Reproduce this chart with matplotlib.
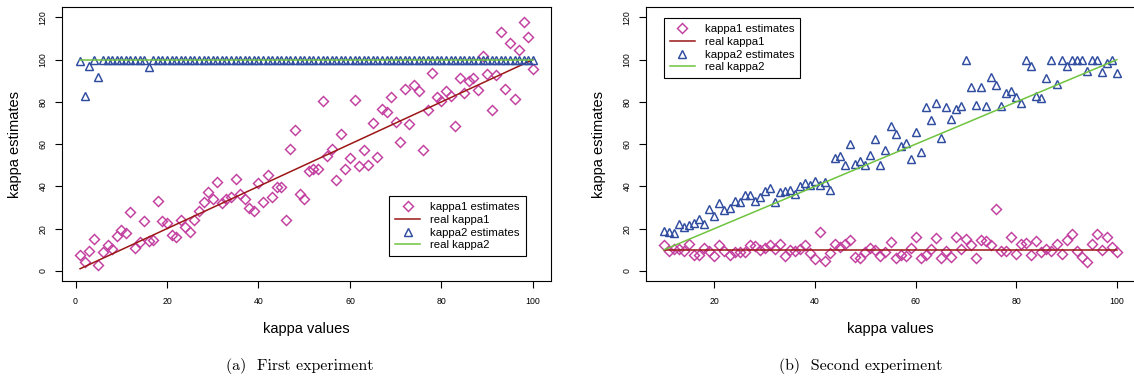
import numpy as np
import matplotlib.pyplot as plt
from matplotlib.lines import Line2D

# ------------------------------------------------------------
# Data
# ------------------------------------------------------------
x_first = list(range(1, 101))
kappa1_first = [
    7.5, 4.2, 9.3, 15.1, 2.8, 8.7, 12.3, 10.4, 16.4, 19.3,
    18.1, 27.8, 10.7, 13.7, 23.4, 14.0, 14.5, 32.9, 23.4, 22.8,
    17.2, 16.2, 24.0, 21.0, 18.4, 24.1, 28.3, 32.5, 37.5, 34.0,
    42.1, 32.3, 34.1, 35.0, 43.3, 36.6, 34.0, 29.9, 28.2, 41.8,
    32.4, 45.3, 34.8, 39.9, 39.6, 23.9, 57.5, 66.7, 36.5, 34.1,
    47.2, 48.0, 48.0, 80.2, 54.2, 57.9, 43.1, 64.8, 48.1, 53.3,
    81.0, 49.5, 57.1, 50.3, 70.1, 54.0, 76.7, 75.2, 82.4, 70.6,
    61.2, 85.9, 69.5, 88.2, 85.2, 57.1, 76.4, 93.9, 82.5, 80.5,
    85.4, 82.7, 68.6, 91.2, 84.4, 90.1, 91.5, 85.7, 101.7, 93.4,
    76.4, 92.6, 113.1, 86.0, 108.0, 81.3, 104.7, 117.8, 110.6, 95.6,
]
kappa2_first = [99.5, 83.0, 97.2, 100, 91.7] + [100] * 10 + [96.4] + [100] * 84
real1_first_x = [1, 100]
real1_first_y = [1, 100]
real2_first_x = [1, 100]
real2_first_y = [100, 100]

x_second = list(range(10, 101))
kappa1_second = [
    12.3, 9.4, 10.2, 10.2, 9.4, 12.6, 7.5, 7.7, 10.7, 9.4,
    7.1, 12.3, 9.3, 7.4, 9.0, 9.1, 8.7, 12.1, 11.8, 9.9,
    10.6, 12.1, 10.2, 12.7, 7.1, 9.9, 9.4, 10.2, 12.1, 8.5,
    5.4, 18.6, 4.8, 8.4, 12.8, 11.5, 12.6, 14.5, 6.8, 6.2,
    8.7, 10.6, 10.0, 7.0, 9.0, 13.7, 5.9, 7.3, 7.0, 10.6,
    15.9, 6.0, 7.4, 10.3, 15.4, 6.0, 9.2, 6.6, 15.8, 10.2,
    15.0, 12.3, 6.0, 14.5, 14.3, 12.1, 29.1, 9.4, 9.4, 16.0,
    7.9, 12.9, 13.1, 7.4, 14.2, 9.1, 10.2, 9.4, 12.9, 7.9,
    14.6, 17.6, 9.4, 6.6, 4.4, 12.9, 17.3, 9.8, 16.0, 11.2,
    9.0,
]
kappa2_second = [
    18.9, 18.4, 18.1, 22.0, 20.8, 21.7, 22.6, 24.7, 22.4, 29.4,
    25.9, 32.3, 28.8, 29.9, 33.0, 32.5, 35.8, 35.8, 33.3, 34.9,
    37.7, 39.0, 32.5, 37.3, 37.7, 38.5, 36.5, 40.1, 41.5, 40.7,
    42.4, 40.6, 42.3, 38.5, 53.5, 54.4, 50.0, 60.1, 50.7, 52.2,
    49.9, 55.0, 62.4, 50.3, 57.3, 68.4, 65.0, 59.0, 60.6, 53.2,
    65.8, 56.1, 77.4, 71.6, 79.4, 62.9, 77.4, 72.0, 76.7, 78.2,
    100, 87.0, 78.6, 87.0, 78.3, 91.7, 87.9, 78.2, 84.1, 85.4,
    82.3, 79.4, 100, 97.0, 82.9, 81.8, 91.4, 100, 88.5, 100,
    97.0, 99.7, 100, 100, 94.8, 100, 100, 94.2, 98.5, 100,
    93.6,
]
real1_second_x = [10, 100]
real1_second_y = [10, 10]
real2_second_x = [10, 100]
real2_second_y = [10, 100]

labels = ["kappa1 estimates", "real kappa1", "kappa2 estimates", "real kappa2"]
captions = ["(a)  First experiment", "(b)  Second experiment"]

# ------------------------------------------------------------
# Style
# ------------------------------------------------------------
plt.rcParams["font.family"] = ["Liberation Sans", "DejaVu Sans"]
MAGENTA = "#C23FA0"
DARKRED = "#9B1616"
BLUE = "#2F4C9F"
GREEN = "#6FC33F"

W, H = 1134, 383
fig = plt.figure(figsize=(W / 100, H / 100), dpi=100)


def px_axes(x0, x1, y0, y1):
    return fig.add_axes([x0 / W, 1 - y1 / H, (x1 - x0) / W, (y1 - y0) / H])


def draw_panel(ax, xs, k1, k2, r1x, r1y, r2x, r2y, xlim, xticks):
    ax.plot(xs, k1, ls="none", marker="D", ms=4.6, mfc="none", mec=MAGENTA, mew=1.05)
    ax.plot(r1x, r1y, color=DARKRED, lw=1.1)
    ax.plot(xs, k2, ls="none", marker="^", ms=6, mfc="none", mec=BLUE, mew=1.05)
    ax.plot(r2x, r2y, color=GREEN, lw=1.1)
    ax.set_xlim(*xlim)
    ax.set_ylim(-4.8, 124.8)
    ax.set_xticks(xticks)
    ax.set_yticks(range(0, 121, 20))
    ax.set_yticklabels([str(v) for v in range(0, 121, 20)], rotation=90, va="center")
    ax.tick_params(direction="out", length=5.3, width=0.8, labelsize=6.3)
    ax.tick_params(axis="x", pad=6)
    ax.tick_params(axis="y", pad=5)
    for s in ax.spines.values():
        s.set_linewidth(0.8)
    ax.set_xlabel("kappa values", fontsize=10.5, labelpad=12)
    ax.set_ylabel("kappa estimates", fontsize=10.5, labelpad=12)


handles = [
    Line2D([], [], ls="none", marker="D", ms=4.6, mfc="none", mec=MAGENTA, mew=1.05),
    Line2D([], [], color=DARKRED, lw=1.1),
    Line2D([], [], ls="none", marker="^", ms=6, mfc="none", mec=BLUE, mew=1.05),
    Line2D([], [], color=GREEN, lw=1.1),
]
leg_kw = dict(fontsize=8.2, frameon=True, fancybox=False, framealpha=1,
              edgecolor="black", borderpad=0.5, labelspacing=0.25,
              handlelength=2.2, handletextpad=0.9, borderaxespad=0)

ax1 = px_axes(62, 551, 7.3, 281)
draw_panel(ax1, x_first, kappa1_first, kappa2_first,
           real1_first_x, real1_first_y, real2_first_x, real2_first_y,
           (-2.96, 103.96), range(0, 101, 20))
leg = ax1.legend(handles, labels, loc="lower right",
                 bbox_to_anchor=(0.948, 0.091), **leg_kw)
leg.get_frame().set_linewidth(0.8)

ax2 = px_axes(646, 1135, 7.3, 281)
draw_panel(ax2, x_second, kappa1_second, kappa2_second,
           real1_second_x, real1_second_y, real2_second_x, real2_second_y,
           (6.4, 103.6), range(20, 101, 20))
leg = ax2.legend(handles, labels, loc="upper left",
                 bbox_to_anchor=(0.037, 0.96), **leg_kw)
leg.get_frame().set_linewidth(0.8)

# sub-figure captions
fig.text(300 / W, 1 - 366 / H, captions[0], family="cmr10", fontsize=11.5,
         ha="center", va="center")
fig.text(861 / W, 1 - 366 / H, captions[1], family="cmr10", fontsize=11.5,
         ha="center", va="center")

fig.savefig("out.png", dpi=100)
